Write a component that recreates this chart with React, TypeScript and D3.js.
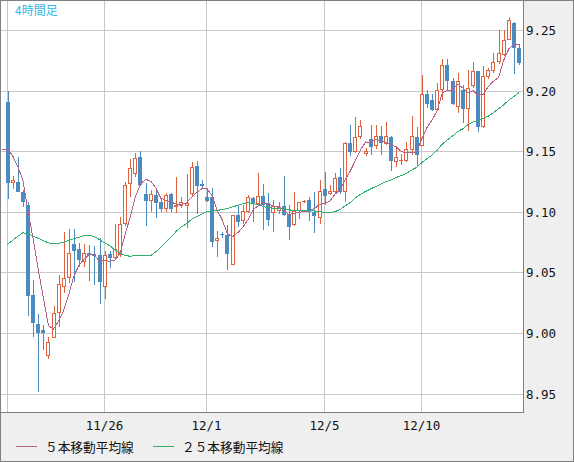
import React from 'react';
import * as d3 from 'd3';

// closes of the 24 bars before the visible window (needed for the moving averages)
const priorCloses = [
  9.040, 9.035, 9.036, 9.050, 9.055, 9.045, 9.048, 9.040,
  9.035, 9.030, 9.025, 9.028, 9.032, 9.030, 9.032,
  9.060, 9.085, 9.110, 9.130, 9.120, 9.155, 9.160, 9.165, 9.156,
];

const opens = [
  9.191, 9.1235, 9.125, 9.1166, 9.1056, 9.031, 9.0074, 9.0025, 8.9813, 8.9957,
  9.0163, 9.0377, 9.0451, 9.0734, 9.0693, 9.0589, 9.066, 9.0655, 9.0645, 9.0383,
  9.0653, 9.0623, 9.0645, 9.090, 9.1228, 9.1313, 9.1456, 9.1146, 9.109, 9.114,
  9.1079, 9.1024, 9.1145, 9.1038, 9.1049, 9.1052, 9.1148, 9.1382, 9.1231, 9.1126,
  9.1126, 9.0758, 9.0816, 9.0808, 9.056, 9.0975, 9.0926, 9.100, 9.1113, 9.1066,
  9.1132, 9.1077, 9.0994, 9.1003, 9.1048, 9.0986, 9.089, 9.1006, 9.1078, 9.1094,
  9.0995, 9.0951, 9.1188, 9.1144, 9.1161, 9.129, 9.1166, 9.1565, 9.1496, 9.1614,
  9.148, 9.1601, 9.1543, 9.1625, 9.1557, 9.162, 9.1413, 9.1421, 9.1419, 9.151,
  9.1614, 9.1541, 9.1973, 9.1926, 9.1838, 9.2003, 9.2215, 9.2083, 9.1863, 9.2005,
  9.1846, 9.2038, 9.2162, 9.1698, 9.211, 9.2165, 9.2239, 9.2299, 9.2423, 9.2561,
  9.2357,
];
const highs = [
  9.200, 9.130, 9.1455, 9.118, 9.1085, 9.044, 9.016, 9.0066, 8.997, 9.022,
  9.048, 9.083, 9.0856, 9.086, 9.0745, 9.0734, 9.073, 9.072, 9.078, 9.068,
  9.068, 9.0898, 9.096, 9.125, 9.1437, 9.149, 9.150, 9.124, 9.118, 9.1175,
  9.111, 9.1153, 9.1153, 9.129, 9.1126, 9.131, 9.141, 9.1423, 9.1264, 9.1195,
  9.1195, 9.0838, 9.083, 9.089, 9.0975, 9.105, 9.1058, 9.114, 9.1126, 9.1324,
  9.1231, 9.1154, 9.1099, 9.1085, 9.130, 9.1056, 9.1161, 9.108, 9.110, 9.1124,
  9.1166, 9.1263, 9.1331, 9.122, 9.1318, 9.1364, 9.158, 9.1716, 9.1785, 9.1757,
  9.153, 9.1716, 9.1716, 9.171, 9.1744, 9.163, 9.1529, 9.148, 9.158, 9.1792,
  9.170, 9.2132, 9.201, 9.1973, 9.2064, 9.2265, 9.2265, 9.2105, 9.2146, 9.205,
  9.217, 9.2239, 9.2165, 9.2205, 9.2185, 9.2308, 9.250, 9.250, 9.2605, 9.257,
  9.239,
];
const lows = [
  9.111, 9.119, 9.116, 9.104, 9.0143, 8.997, 8.9516, 8.986, 8.9786, 8.9956,
  9.0052, 9.033, 9.041, 9.042, 9.0542, 9.0542, 9.043, 9.040, 9.024, 9.028,
  9.0535, 9.0603, 9.063, 9.088, 9.112, 9.129, 9.121, 9.0885, 9.1002, 9.0953,
  9.100, 9.100, 9.1002, 9.0988, 9.103, 9.087, 9.1126, 9.0983, 9.120, 9.108,
  9.0706, 9.0624, 9.078, 9.0516, 9.056, 9.0874, 9.090, 9.099, 9.092, 9.1058,
  9.0852, 9.0885, 9.083, 9.098, 9.0965, 9.0767, 9.088, 9.094, 9.107, 9.0923,
  9.0829, 9.0896, 9.1056, 9.114, 9.1144, 9.115, 9.108, 9.1463, 9.149, 9.160,
  9.146, 9.147, 9.152, 9.147, 9.155, 9.1337, 9.1372, 9.139, 9.1413, 9.1468,
  9.138, 9.154, 9.1857, 9.183, 9.183, 9.1926, 9.200, 9.188, 9.1816, 9.173,
  9.167, 9.202, 9.166, 9.169, 9.210, 9.215, 9.222, 9.229, 9.242, 9.2137,
  9.221,
];
const closes = [
  9.124, 9.1264, 9.1166, 9.1083, 9.0308, 9.008, 9.000, 8.9998, 8.9923, 9.0163,
  9.0405, 9.0457, 9.0657, 9.068, 9.0605, 9.0658, 9.064, 9.0635, 9.0419, 9.0645,
  9.0617, 9.0691, 9.0898, 9.1222, 9.136, 9.1448, 9.1222, 9.109, 9.1148, 9.1076,
  9.1021, 9.114, 9.1021, 9.1057, 9.1079, 9.107, 9.1374, 9.1217, 9.1217, 9.1093,
  9.0755, 9.0786, 9.0808, 9.0651, 9.0975, 9.092, 9.1003, 9.1121, 9.1071, 9.1132,
  9.1058, 9.0934, 9.105, 9.1044, 9.0973, 9.0876, 9.1006, 9.1078, 9.1089, 9.0995,
  9.0967, 9.1172, 9.1133, 9.1172, 9.1276, 9.1166, 9.1565, 9.1496, 9.1614, 9.1708,
  9.1504, 9.1537, 9.1625, 9.1565, 9.1625, 9.1419, 9.1449, 9.143, 9.1516, 9.1625,
  9.1468, 9.1973, 9.189, 9.1838, 9.2003, 9.2215, 9.2078, 9.189, 9.2083, 9.1848,
  9.2019, 9.2162, 9.1703, 9.2121, 9.217, 9.2239, 9.2308, 9.2423, 9.2588, 9.2357,
  9.2233,
];

const yTicks = [8.95, 9.0, 9.05, 9.1, 9.15, 9.2, 9.25];
const xTickIndex = [0, 19, 39, 62, 81];
const xTickLabels = ['', '11/26', '12/1', '12/5', '12/10'];
const maPeriods = [5, 25];
const maNames = ['５本移動平均線', '２５本移動平均線'];
const maColors = ['#b5618c', '#2fb06e'];
const title = '4時間足';

const UP = '#e0623c';
const DOWN = '#4b8bbf';
const GRID = '#c8c8c8';
const BORDER = '#808080';
const MONO = '"DejaVu Sans Mono", "Liberation Mono", monospace';
const JP = '"Noto Sans CJK JP", "Noto Sans", sans-serif';

export default function App() {
  const W = 574;
  const H = 462;
  const plotR = 523;
  const plotB = 412;
  const n = closes.length;
  const x = d3.scaleLinear().domain([0, n - 1]).range([7.5, 519]);
  const y = d3.scaleLinear().domain([8.95, 9.25]).range([393.5, 30.2]);

  const all = priorCloses.concat(closes);
  const off = priorCloses.length;
  const maSeries = maPeriods.map((p) => {
    const pts: [number, number][] = [];
    for (let i = -1; i < n; i++) {
      const k = i + off;
      if (k - p + 1 < 0) continue;
      pts.push([i, d3.mean(all.slice(k - p + 1, k + 1)) as number]);
    }
    return pts;
  });
  const line = d3
    .line<[number, number]>()
    .x((d) => x(d[0]))
    .y((d) => y(d[1]));

  const candles = closes.map((c, i) => {
    const o = opens[i];
    const up = c >= o;
    const L = Math.round(x(i) - 2);
    const top = Math.round(y(Math.max(o, c)));
    const bot = Math.round(y(Math.min(o, c)));
    const h = Math.max(1, bot - top);
    const wx = L + 2.5;
    const yh = Math.round(y(highs[i]));
    const yl = Math.round(y(lows[i]));
    return (
      <g key={i}>
        <line x1={wx} x2={wx} y1={yh} y2={yl} stroke={up ? UP : DOWN} strokeWidth={1} />
        {up ? (
          h >= 2 ? (
            <rect x={L + 0.5} y={top + 0.5} width={3} height={h - 1} fill="#fff" stroke={UP} strokeWidth={1} />
          ) : (
            <rect x={L} y={top} width={4} height={h} fill={UP} />
          )
        ) : (
          <rect x={L} y={top} width={4} height={h} fill={DOWN} />
        )}
      </g>
    );
  });

  return (
    <svg
      width={W}
      height={H}
      style={{ position: 'absolute', left: 0, top: 0, display: 'block' }}
      shapeRendering="crispEdges"
    >
      <defs>
        <clipPath id="plotClip">
          <rect x={1} y={1} width={plotR - 1} height={plotB - 1} />
        </clipPath>
      </defs>
      <rect x={0} y={0} width={W} height={H} fill="#efefef" />
      <rect x={1} y={1} width={plotR - 1} height={plotB - 1} fill="#fff" />
      <g clipPath="url(#plotClip)">
        {yTicks.map((t) => (
          <line key={t} x1={1} x2={plotR} y1={Math.round(y(t)) + 0.5} y2={Math.round(y(t)) + 0.5} stroke={GRID} />
        ))}
        {xTickIndex.map((t) => (
          <line key={t} x1={Math.floor(x(t)) + 0.5} x2={Math.floor(x(t)) + 0.5} y1={1} y2={plotB} stroke={GRID} />
        ))}
        {candles}
        {maSeries.map((pts, k) => (
          <path key={k} d={line(pts) || ''} fill="none" stroke={maColors[k]} strokeWidth={1} shapeRendering="crispEdges" />
        ))}
      </g>
      <text x={15} y={15} fill="#35b6e6" fontSize={12} fontFamily={JP}>
        {title}
      </text>
      {yTicks.map((t) => (
        <text key={t} x={526} y={Math.round(y(t)) + 5} fontSize={12.5} fontFamily={MONO} fill="#111">
          {t.toFixed(2)}
        </text>
      ))}
      {xTickIndex.map((t, k) =>
        xTickLabels[k] ? (
          <text key={t} x={Math.floor(x(t)) + 0.5} y={430} textAnchor="middle" fontSize={12.5} fontFamily={MONO} fill="#111">
            {xTickLabels[k]}
          </text>
        ) : null
      )}
      {maNames.map((name, k) => {
        const lx = k === 0 ? 16 : 153;
        return (
          <g key={name}>
            <line x1={lx} x2={lx + 21} y1={446.5} y2={446.5} stroke={maColors[k]} />
            <text x={lx + 29} y={452} fontSize={12.7} fontFamily={JP} fill="#111">
              {name}
            </text>
          </g>
        );
      })}
      <line x1={0} x2={plotR + 0.5} y1={plotB + 0.5} y2={plotB + 0.5} stroke={BORDER} />
      <line x1={plotR + 0.5} x2={plotR + 0.5} y1={0} y2={plotB + 0.5} stroke={BORDER} />
      <rect x={0.5} y={0.5} width={W - 1} height={H - 1} fill="none" stroke={BORDER} />
    </svg>
  );
}
